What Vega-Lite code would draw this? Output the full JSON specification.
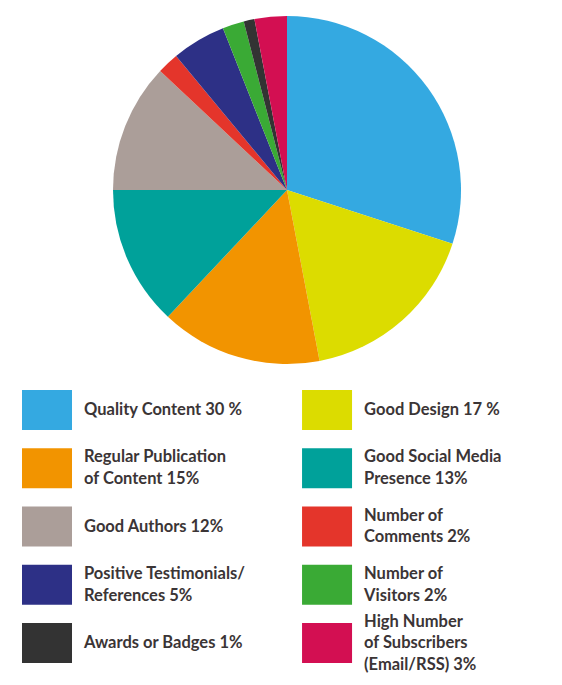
{
  "$schema": "https://vega.github.io/schema/vega-lite/v6.json",
  "padding": {"left": 12, "top": 0, "right": 0, "bottom": 0},
  "spacing": 0,
  "config": {"view": {"stroke": null}},
  "datasets": {
    "shares": [
      {"category": "Quality Content", "value": 30, "ord": 1, "col": 0, "row": 0},
      {"category": "Good Design", "value": 17, "ord": 2, "col": 1, "row": 0},
      {"category": "Regular Publication of Content", "value": 15, "ord": 3, "col": 0, "row": 1},
      {"category": "Good Social Media Presence", "value": 13, "ord": 4, "col": 1, "row": 1},
      {"category": "Good Authors", "value": 12, "ord": 5, "col": 0, "row": 2},
      {"category": "Number of Comments", "value": 2, "ord": 6, "col": 1, "row": 2},
      {"category": "Positive Testimonials/References", "value": 5, "ord": 7, "col": 0, "row": 3},
      {"category": "Number of Visitors", "value": 2, "ord": 8, "col": 1, "row": 3},
      {"category": "Awards or Badges", "value": 1, "ord": 9, "col": 0, "row": 4},
      {"category": "High Number of Subscribers (Email/RSS)", "value": 3, "ord": 10, "col": 1, "row": 4}
    ],
    "lines": [
      {"col": 0, "row": 0, "line": 0, "text": "Quality Content 30 %"},
      {"col": 1, "row": 0, "line": 0, "text": "Good Design 17 %"},
      {"col": 0, "row": 1, "line": -0.5, "text": "Regular Publication"},
      {"col": 0, "row": 1, "line": 0.5, "text": "of Content 15%"},
      {"col": 1, "row": 1, "line": -0.5, "text": "Good Social Media"},
      {"col": 1, "row": 1, "line": 0.5, "text": "Presence 13%"},
      {"col": 0, "row": 2, "line": 0, "text": "Good Authors 12%"},
      {"col": 1, "row": 2, "line": -0.5, "text": "Number of"},
      {"col": 1, "row": 2, "line": 0.5, "text": "Comments 2%"},
      {"col": 0, "row": 3, "line": -0.5, "text": "Positive Testimonials/"},
      {"col": 0, "row": 3, "line": 0.5, "text": "References 5%"},
      {"col": 1, "row": 3, "line": -0.5, "text": "Number of"},
      {"col": 1, "row": 3, "line": 0.5, "text": "Visitors 2%"},
      {"col": 0, "row": 4, "line": 0, "text": "Awards or Badges 1%"},
      {"col": 1, "row": 4, "line": -1, "text": "High Number"},
      {"col": 1, "row": 4, "line": 0, "text": "of Subscribers"},
      {"col": 1, "row": 4, "line": 1, "text": "(Email/RSS) 3%"}
    ]
  },
  "vconcat": [
    {
      "width": 550,
      "height": 380,
      "data": {"name": "shares"},
      "mark": {"type": "arc", "outerRadius": 174},
      "encoding": {
        "theta": {"field": "value", "type": "quantitative", "stack": true},
        "order": {"field": "ord", "type": "quantitative"},
        "color": {
          "field": "category",
          "type": "nominal",
          "legend": null,
          "scale": {
            "domain": ["Quality Content", "Good Design", "Regular Publication of Content", "Good Social Media Presence", "Good Authors", "Number of Comments", "Positive Testimonials/References", "Number of Visitors", "Awards or Badges", "High Number of Subscribers (Email/RSS)"],
            "range": ["#34a9e1", "#dcdc00", "#f29400", "#00a19a", "#ab9e99", "#e4352b", "#2d3086", "#3aaa35", "#333333", "#d30f52"]
          }
        }
      }
    },
    {
      "width": 550,
      "height": 293,
      "encoding": {
        "x": {"field": "col", "type": "quantitative", "axis": null, "scale": {"domain": [-0.125, 1.839], "zero": false, "nice": false}},
        "y": {"field": "row", "type": "ordinal", "axis": null, "scale": {"type": "point", "padding": 0.515}}
      },
      "layer": [
        {
          "data": {"name": "shares"},
          "mark": {"type": "rect", "width": 50, "height": 40},
          "encoding": {
            "color": {
              "field": "category",
              "type": "nominal",
              "legend": null,
              "scale": {
                "domain": ["Quality Content", "Good Design", "Regular Publication of Content", "Good Social Media Presence", "Good Authors", "Number of Comments", "Positive Testimonials/References", "Number of Visitors", "Awards or Badges", "High Number of Subscribers (Email/RSS)"],
                "range": ["#34a9e1", "#dcdc00", "#f29400", "#00a19a", "#ab9e99", "#e4352b", "#2d3086", "#3aaa35", "#333333", "#d30f52"]
              }
            }
          }
        },
        {
          "data": {"name": "lines"},
          "mark": {"type": "text", "align": "left", "baseline": "middle", "dx": 37, "font": "Lato", "fontSize": 16.5, "fontWeight": "bold", "color": "#3b3536"},
          "encoding": {
            "text": {"field": "text", "type": "nominal"},
            "yOffset": {"field": "line", "type": "quantitative", "scale": {"domain": [-1, 1], "range": [-21.5, 21.5], "zero": false, "nice": false}}
          }
        }
      ]
    }
  ]
}
